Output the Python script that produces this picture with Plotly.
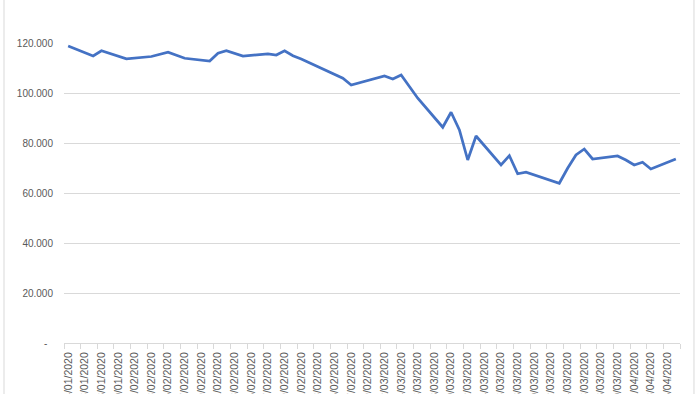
import plotly.graph_objects as go

dates = [
    "2020-01-24", "2020-01-27", "2020-01-28", "2020-01-31", "2020-02-03",
    "2020-02-05", "2020-02-07", "2020-02-10", "2020-02-11", "2020-02-12",
    "2020-02-14", "2020-02-17", "2020-02-18", "2020-02-19", "2020-02-20",
    "2020-02-21", "2020-02-26", "2020-02-27", "2020-03-02", "2020-03-03",
    "2020-03-04", "2020-03-06", "2020-03-09", "2020-03-10", "2020-03-11",
    "2020-03-12", "2020-03-13", "2020-03-16", "2020-03-17", "2020-03-18",
    "2020-03-19", "2020-03-23", "2020-03-24", "2020-03-25", "2020-03-26",
    "2020-03-27", "2020-03-30", "2020-03-31", "2020-04-01", "2020-04-02",
    "2020-04-03", "2020-04-06",
]
values = [
    118.8, 114.8, 116.9, 113.7, 114.6,
    116.3, 113.9, 112.8, 115.9, 116.9,
    114.8, 115.6, 115.2, 116.9, 114.9,
    113.6, 105.9, 103.2, 106.8, 105.6,
    107.2, 97.9, 86.3, 92.3, 85.2,
    73.2, 82.8, 71.2, 74.9, 67.7,
    68.3, 63.9, 69.9, 75.2, 77.6,
    73.6, 74.8, 73.2, 71.2, 72.3,
    69.6, 73.6,
]
y_tickvals = [0, 20, 40, 60, 80, 100, 120]
y_ticktext = ["-\u00a0\u00a0", "20.000", "40.000", "60.000", "80.000", "100.000", "120.000"]

DAY = 86400000
GRID = "#d9d9d9"
TXT = "#595959"

fig = go.Figure()
fig.add_trace(go.Scatter(
    x=dates, y=values, mode="lines",
    line=dict(color="#4472C4", width=2.75),
    hoverinfo="skip",
))

fig.update_layout(
    width=700, height=394,
    margin=dict(l=64, r=20, t=43, b=51),
    paper_bgcolor="white", plot_bgcolor="white",
    showlegend=False,
    font=dict(family="Liberation Sans, Arial, sans-serif", size=10, color=TXT),
    xaxis=dict(
        type="date",
        range=["2020-01-23 12:00", "2020-04-06 12:00"],
        tick0="2020-01-24", dtick=2 * DAY,
        tickformat="%d/%m/%Y", tickangle=-90,
        tickfont=dict(size=10.5, color=TXT),
        ticks="", showgrid=False, zeroline=False,
        showline=True, linecolor=GRID, linewidth=1,
        ticklabelstandoff=4,
        minor=dict(ticks="outside", ticklen=5, tickcolor=GRID, tickwidth=1,
                   tick0="2020-01-23 12:00", dtick=2 * DAY, showgrid=False),
        automargin=False,
    ),
    yaxis=dict(
        range=[0, 120],
        tickvals=y_tickvals, ticktext=y_ticktext,
        tickfont=dict(size=10, color=TXT),
        showgrid=True, gridcolor=GRID, gridwidth=1,
        zeroline=False, showline=False, ticks="",
        ticklabelstandoff=10,
        automargin=False,
    ),
    shapes=[
        dict(type="line", xref="paper", yref="paper",
             x0=-0.0974, x1=-0.0974, y0=-1, y1=2,
             line=dict(color=GRID, width=1)),
        dict(type="line", xref="paper", yref="paper",
             x0=1.0227, x1=1.0227, y0=-1, y1=2,
             line=dict(color=GRID, width=1)),
    ],
)

fig.write_html(
    "out.html",
    config={"displayModeBar": False, "staticPlot": True},
    post_script="document.body.style.margin='0';document.body.style.overflow='hidden';",
)
